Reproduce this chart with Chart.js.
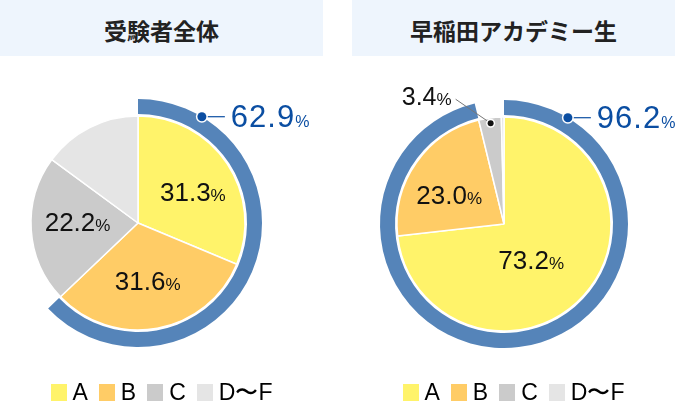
<!DOCTYPE html>
<html lang="ja">
<head>
<meta charset="utf-8">
<script src="https://cdn.jsdelivr.net/npm/chart.js@4/dist/chart.umd.min.js"></script>
<style>
  html, body { margin: 0; padding: 0; background: #fff; width: 678px; height: 406px; overflow: hidden; }
  .panel { position: absolute; top: 0; width: 323px; height: 406px; }
  .head {
    height: 56px; background: #eef5fd; color: #222;
    display: flex; align-items: center; justify-content: center;
    font: bold 23px "Noto Sans CJK JP", sans-serif; padding-top: 3px; box-sizing: border-box;
  }
  .panel canvas { position: absolute; left: 0; top: 60px; }
  .legend {
    position: absolute; left: 0; top: 384px; width: 323px;
    display: flex; justify-content: center; gap: 11px;
    font: 23px "Liberation Sans", sans-serif; color: #000; line-height: 17px;
  }
  .legend .item { display: flex; align-items: center; }
  .legend .box { display: inline-block; width: 16px; height: 17px; margin-right: 6px; }
</style>
</head>
<body>
<div class="panel" id="p0" style="left:0">
  <div class="head"></div>
  <canvas id="c0" width="323" height="346"></canvas>
  <div class="legend"></div>
</div>
<div class="panel" id="p1" style="left:352px">
  <div class="head"></div>
  <canvas id="c1" width="323" height="346"></canvas>
  <div class="legend"></div>
</div>
<script>
const categories = ['A', 'B', 'C', 'D〜F'];
const panelTitles = ['受験者全体', '早稲田アカデミー生'];
const allValues = [31.3, 31.6, 22.2, 14.9];
const wasedaValues = [73.2, 23.0, 3.4, 0.4];
const ringValues = [62.9, 96.2];   // A+B share shown on the outer ring

const sliceColors = ['#fff36a', '#ffcc66', '#cbcbcb', '#e5e5e5'];
const ringBlue = '#5584b9';
const textBlue = '#0b4ea2';

function drawValue(ctx, value, x, y, align, color, size, pctSize, spacing) {
  const num = value.toFixed(1);
  ctx.save();
  ctx.fillStyle = color;
  ctx.textBaseline = 'alphabetic';
  ctx.font = size + 'px "Liberation Sans", Arial, sans-serif';
  ctx.letterSpacing = spacing + 'px';
  const wNum = ctx.measureText(num).width;
  ctx.font = pctSize + 'px "Liberation Sans", Arial, sans-serif';
  ctx.letterSpacing = '0px';
  const wPct = ctx.measureText('%').width;
  const total = wNum + wPct;
  let left = x;
  if (align === 'center') left = x - total / 2;
  if (align === 'right') left = x - total;
  const base = y + size * 0.358;
  ctx.textAlign = 'left';
  ctx.font = size + 'px "Liberation Sans", Arial, sans-serif';
  ctx.letterSpacing = spacing + 'px';
  ctx.fillText(num, left, base);
  ctx.font = pctSize + 'px "Liberation Sans", Arial, sans-serif';
  ctx.letterSpacing = '0px';
  ctx.fillText('%', left + wNum, base);
  ctx.restore();
}

function dot(ctx, x, y, r, color) {
  ctx.beginPath();
  ctx.arc(x, y, r + 1.5, 0, Math.PI * 2);
  ctx.fillStyle = '#fff';
  ctx.fill();
  ctx.beginPath();
  ctx.arc(x, y, r, 0, Math.PI * 2);
  ctx.fillStyle = color;
  ctx.fill();
}

const pieLabels = {
  id: 'pieLabels',
  afterDatasetsDraw(chart, args, o) {
    const ctx = chart.ctx;
    const values = chart.data.datasets[2].data;
    const pie = chart.getDatasetMeta(2).data;

    // values inside the slices
    pie.forEach((arc, i) => {
      const p = o.inside[i];
      if (!p) return;
      const mid = (arc.startAngle + arc.endAngle) / 2 + p[1] * Math.PI / 180;
      const r = arc.outerRadius * p[0];
      drawValue(ctx, values[i], arc.x + Math.cos(mid) * r, arc.y + Math.sin(mid) * r, 'center', '#111', 26, 17, 0);
    });

    // blue callout on the ring
    const ring = chart.getDatasetMeta(0).data[0];
    const a = ring.startAngle + 31 * Math.PI / 180;
    const dx = ring.x + Math.cos(a) * ring.outerRadius;
    const dy = ring.y + Math.sin(a) * ring.outerRadius;
    ctx.save();
    ctx.strokeStyle = textBlue;
    ctx.lineWidth = 1.2;
    ctx.beginPath();
    ctx.moveTo(dx, dy);
    ctx.lineTo(dx + 23, dy);
    ctx.stroke();
    dot(ctx, dx, dy, 4.5, textBlue);
    ctx.restore();
    drawValue(ctx, chart.data.datasets[0].data[0], dx + 29, dy - 1, 'left', textBlue, 31, 16, 1);

    // small slice callout
    if (o.outside !== undefined) {
      const arc = pie[o.outside];
      const mid = (arc.startAngle + arc.endAngle) / 2;
      const px = arc.x + Math.cos(mid) * arc.outerRadius * 0.95;
      const py = arc.y + Math.sin(mid) * arc.outerRadius * 0.95;
      ctx.save();
      ctx.strokeStyle = '#777';
      ctx.lineWidth = 1;
      ctx.beginPath();
      ctx.moveTo(px, py);
      ctx.lineTo(px - 35, py - 24);
      ctx.stroke();
      dot(ctx, px, py, 3, '#111');
      ctx.restore();
      drawValue(ctx, values[o.outside], px - 39, py - 27, 'right', '#111', 25, 17, 0);
    }
  }
};

function makeChart(idx, values, ringValue, pad, labelOpts) {
  const panel = document.getElementById('p' + idx);
  panel.querySelector('.head').textContent = panelTitles[idx];
  const legend = panel.querySelector('.legend');
  categories.forEach((c, i) => {
    const item = document.createElement('span');
    item.className = 'item';
    item.innerHTML = '<span class="box" style="background:' + sliceColors[i] + '"></span>' + c;
    legend.appendChild(item);
  });

  return new Chart(document.getElementById('c' + idx), {
    type: 'doughnut',
    data: {
      labels: categories,
      datasets: [
        { data: [ringValue, 100 - ringValue], backgroundColor: [ringBlue, 'rgba(0,0,0,0)'], borderWidth: 0, weight: 15 },
        { data: [100], backgroundColor: 'rgba(0,0,0,0)', borderWidth: 0, weight: 2 },
        { data: values, backgroundColor: sliceColors, borderColor: '#fff', borderWidth: 1.5, weight: 107 }
      ]
    },
    options: {
      responsive: false,
      animation: false,
      events: [],
      radius: 124,
      cutout: 0,
      layout: { padding: pad },
      plugins: {
        legend: { display: false },
        tooltip: { enabled: false },
        pieLabels: labelOpts
      }
    },
    plugins: [pieLabels]
  });
}

makeChart(0, allValues, ringValues[0],
  { left: 14, right: 61, top: 14, bottom: 34 },
  { inside: [[0.59, 4], [0.55, 1], [0.565, 4.5], null] });

makeChart(1, wasedaValues, ringValues[1],
  { left: 28, right: 47, top: 14, bottom: 32 },
  { inside: [[0.42, 11], [0.58, -7], null, null], outside: 2 });
</script>
</body>
</html>
